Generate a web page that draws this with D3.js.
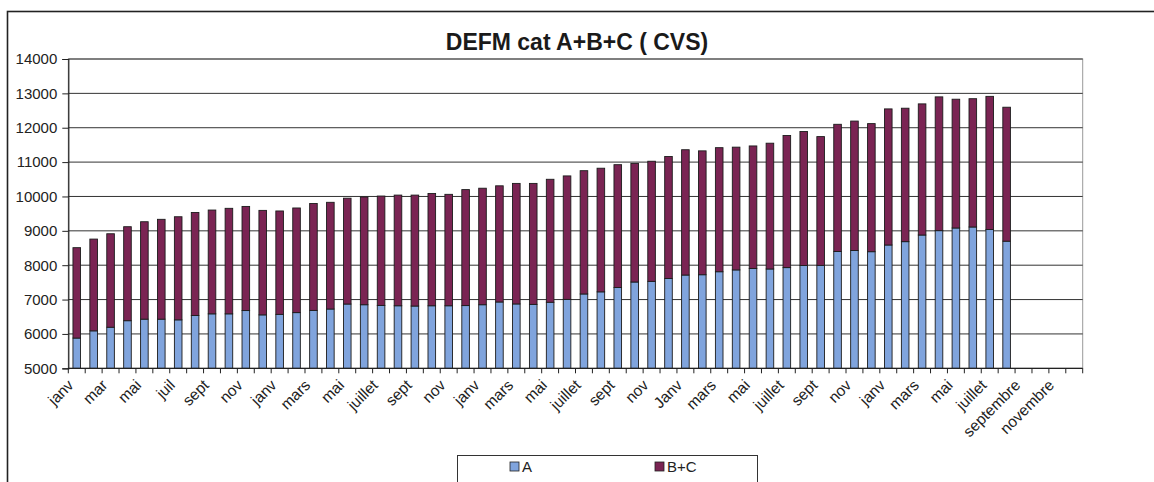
<!DOCTYPE html>
<html><head><meta charset="utf-8">
<script src="https://cdn.jsdelivr.net/npm/d3@7"></script>
<style>body{margin:0;background:#fff;} svg{display:block;font-family:"Liberation Sans",Arial,sans-serif;}</style>
</head><body>
<svg id="c" width="1154" height="482"></svg>
<script>
const title = "DEFM cat A+B+C ( CVS)";
const categories = [
 "janv","févr","mar","avr","mai","juin","juil","août","sept","oct","nov","déc",
 "janv","févr","mars","avr","mai","juin","juillet","août","sept","oct","nov","déc",
 "janv","févr","mars","avr","mai","juin","juillet","août","sept","oct","nov","déc",
 "Janv","févr","mars","avr","mai","juin","juillet","août","sept","oct","nov","déc",
 "janv","févr","mars","avr","mai","juin","juillet","août","septembre","octobre","novembre","décembre"
];
const seriesNames = ["A","B+C"];
const valuesA = [5880,6090,6195,6385,6430,6430,6410,6535,6585,6585,6680,6555,
 6570,6620,6685,6725,6870,6850,6830,6820,6812,6820,6820,6825,
 6850,6930,6873,6860,6922,7005,7163,7225,7350,7511,7530,7612,
 7714,7723,7810,7863,7906,7890,7930,7990,7995,8398,8427,8393,
 8588,8685,8878,9005,9083,9112,9039,8699];
const valuesBC = [2630,2670,2720,2735,2835,2905,3000,3000,3020,3070,3030,3040,
 3008,3045,3110,3105,3080,3135,3182,3220,3228,3268,3242,3375,
 3390,3380,3507,3520,3578,3593,3587,3597,3575,3451,3495,3550,
 3646,3604,3610,3572,3564,3660,3845,3900,3747,3702,3767,3727,
 3960,3883,3816,3893,3747,3733,3874,3898];
const yTicks = [5000,6000,7000,8000,9000,10000,11000,12000,13000,14000];
const colors = ["#80a4dd","#7a2453"];

const svg = d3.select("#c");
const L = 68.3, R = 1082.7, T = 59, B = 368.3;

// outer border
svg.append("rect").attr("x",7.5).attr("y",11.5).attr("width",1160).attr("height",480)
  .attr("fill","none").attr("stroke","#222").attr("stroke-width",1.6);

svg.append("text").attr("x",577).attr("y",50).attr("text-anchor","middle")
  .attr("font-size",23).attr("font-weight","bold").attr("fill","#1a1a1a").text(title);

const x = d3.scaleBand().domain(d3.range(categories.length)).range([L,R]).paddingInner(0).paddingOuter(0);
const y = d3.scaleLinear().domain([5000,14000]).range([B,T]);

// plot border (gray)
svg.append("rect").attr("x",L).attr("y",T).attr("width",R-L).attr("height",B-T)
  .attr("fill","none").attr("stroke","#999").attr("stroke-width",1);

// gridlines
svg.append("g").selectAll("line").data(yTicks.slice(1)).join("line")
  .attr("x1",L).attr("x2",R).attr("y1",d=>y(d)).attr("y2",d=>y(d))
  .attr("stroke","#333").attr("stroke-width",1);

// stacked bars (A base clipped at the axis minimum)
const data = valuesA.map((a,i)=>({i, A:a, BC:valuesBC[i]}));
const layers = d3.stack().keys(["A","BC"])(data);
const y0 = y.domain()[0];
const bw = 7.6;
svg.append("g").selectAll("g").data(layers).join("g")
  .attr("fill",(d,k)=>colors[k])
  .selectAll("rect").data(d=>d).join("rect")
  .attr("x",d=>x(d.data.i)+x.bandwidth()/2-bw/2)
  .attr("width",bw)
  .attr("y",d=>y(d[1]))
  .attr("height",d=>y(Math.max(d[0],y0)) - y(d[1]))
  .attr("stroke","#1c1c1c").attr("stroke-width",0.9);

// y axis
const yAxis = d3.axisLeft(y).tickValues(yTicks).tickSize(6).tickPadding(5).tickFormat(d3.format("d"));
const gy = svg.append("g").attr("transform",`translate(${L},0)`).call(yAxis);
gy.select(".domain").attr("stroke","#222").attr("stroke-width",1.2);
gy.selectAll(".tick line").attr("stroke","#222");
gy.selectAll("text").attr("font-size",15).attr("fill","#222").attr("font-family","Liberation Sans, Arial, sans-serif");

// x axis: tick marks at category boundaries
const gx = svg.append("g");
gx.append("line").attr("x1",L).attr("x2",R).attr("y1",B).attr("y2",B).attr("stroke","#222").attr("stroke-width",1.2);
gx.selectAll("line.t").data(d3.range(categories.length+1)).join("line").attr("class","t")
  .attr("x1",i=>L + i*x.step()).attr("x2",i=>L + i*x.step())
  .attr("y1",B).attr("y2",B+5).attr("stroke","#222");
gx.selectAll("text").data(d3.range(0,categories.length,2)).join("text")
  .attr("transform",i=>`translate(${x(i)+x.bandwidth()/2-6},${B+14}) rotate(-45)`)
  .attr("text-anchor","end").attr("dy","0.35em")
  .attr("font-size",15.5).attr("fill","#222").text(i=>categories[i]);

// legend
const lg = svg.append("g");
lg.append("rect").attr("x",457.5).attr("y",455.5).attr("width",300).attr("height",30)
  .attr("fill","#fff").attr("stroke","#333").attr("stroke-width",1);
const items = [{x:510,k:0},{x:655,k:1}];
items.forEach(it=>{
  lg.append("rect").attr("x",it.x).attr("y",462).attr("width",9).attr("height",9)
    .attr("fill",colors[it.k]).attr("stroke","#222").attr("stroke-width",0.8);
  lg.append("text").attr("x",it.x+12).attr("y",472).attr("font-size",15).attr("fill","#222").text(seriesNames[it.k]);
});
</script>
</body></html>
